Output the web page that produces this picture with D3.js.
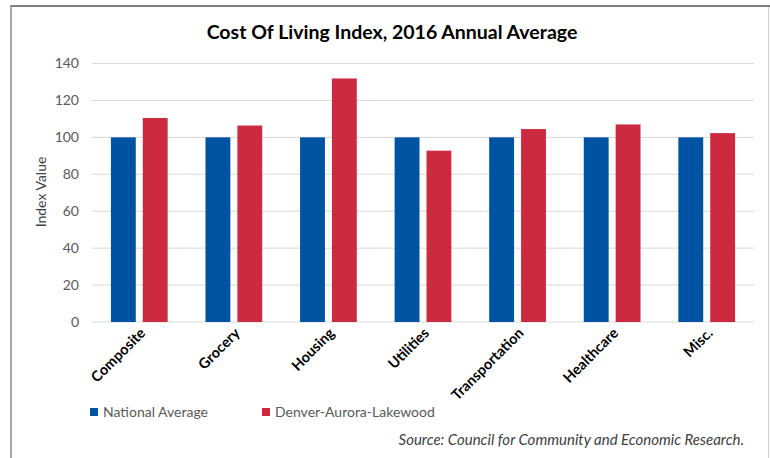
<!DOCTYPE html>
<html>
<head>
<meta charset="utf-8">
<script src="https://cdn.jsdelivr.net/npm/d3@7"></script>
<style>
body { margin: 0; background: #fff; }
text { font-family: Lato, "Open Sans", sans-serif; }
</style>
</head>
<body>
<div id="chart"></div>
<script>
var categories = ["Composite", "Grocery", "Housing", "Utilities", "Transportation", "Healthcare", "Misc."];
var national   = [100, 100, 100, 100, 100, 100, 100];
var denver     = [110.5, 106.4, 131.9, 92.8, 104.5, 107.0, 102.3];
var seriesNames = ["National Average", "Denver-Aurora-Lakewood"];
var yTicks = [0, 20, 40, 60, 80, 100, 120, 140];

var width = 770, height = 458;
var colors = ["#0052A3", "#CC2B3F"];

var svg = d3.select("#chart").append("svg").attr("width", width).attr("height", height);

// frame
svg.append("line").attr("x1", 11).attr("x2", 770).attr("y1", 6).attr("y2", 6)
  .attr("stroke", "#7f7f7f").attr("stroke-width", 2);
svg.append("line").attr("x1", 11).attr("x2", 11).attr("y1", 5).attr("y2", 458)
  .attr("stroke", "#8a8a8a").attr("stroke-width", 1.5);
svg.append("line").attr("x1", 768.5).attr("x2", 768.5).attr("y1", 7).attr("y2", 458)
  .attr("stroke", "#d0d0d0").attr("stroke-width", 1);

var x0 = d3.scaleBand().domain(categories).range([92, 754]).paddingInner(0.4).paddingOuter(0.2);
var x1 = d3.scaleBand().domain([0, 1]).range([0, x0.bandwidth()]).paddingInner(0.22);
var y = d3.scaleLinear().domain([0, 140]).range([322, 63.5]);

// gridlines
svg.append("g").selectAll("line").data(yTicks).enter().append("line")
  .attr("x1", 92).attr("x2", 754)
  .attr("y1", function(d){ return y(d); }).attr("y2", function(d){ return y(d); })
  .attr("stroke", "#d9d9d9").attr("stroke-width", 1);

// y axis labels
var yAxis = d3.axisLeft(y).tickValues(yTicks).tickSize(0).tickPadding(0);
var ya = svg.append("g").attr("transform", "translate(79,0)").call(yAxis);
ya.select(".domain").remove();
ya.selectAll("text").attr("font-size", 14).attr("fill", "#595959")
  .style("font-family", "Lato, sans-serif");

svg.append("text").attr("transform", "translate(46,192) rotate(-90)")
  .attr("text-anchor", "middle").attr("font-size", 14).attr("fill", "#404040")
  .text("Index Value");

// bars
var rows = categories.map(function(c, i){ return {cat: c, vals: [national[i], denver[i]]}; });
var groups = svg.append("g").selectAll("g").data(rows).enter().append("g")
  .attr("transform", function(d){ return "translate(" + x0(d.cat) + ",0)"; });
groups.selectAll("rect").data(function(d){ return d.vals.map(function(v, k){ return {k: k, v: v}; }); })
  .enter().append("rect")
  .attr("x", function(d){ return x1(d.k); })
  .attr("width", x1.bandwidth())
  .attr("y", function(d){ return y(d.v); })
  .attr("height", function(d){ return y(0) - y(d.v); })
  .attr("fill", function(d){ return colors[d.k]; });

// x labels
svg.append("g").selectAll("text").data(categories).enter().append("text")
  .attr("transform", function(d){
    return "translate(" + (x0(d) + x0.bandwidth() / 2 + 7) + ",334) rotate(-45)";
  })
  .attr("text-anchor", "end").attr("font-size", 14.5).attr("font-weight", "bold")
  .attr("fill", "#000").text(function(d){ return d; });

// title
svg.append("text").attr("x", 392).attr("y", 39).attr("text-anchor", "middle")
  .attr("font-size", 19.5).attr("font-weight", "bold").attr("fill", "#000")
  .text("Cost Of Living Index, 2016 Annual Average");

// legend
var legX = [90, 262];
var leg = svg.append("g").selectAll("g").data(seriesNames).enter().append("g")
  .attr("transform", function(d, i){ return "translate(" + legX[i] + ",412)"; });
leg.append("rect").attr("x", 0).attr("y", -4).attr("width", 8).attr("height", 8)
  .attr("fill", function(d, i){ return colors[i]; });
leg.append("text").attr("x", 13).attr("y", 5).attr("font-size", 14).attr("fill", "#595959")
  .text(function(d){ return d; });

// source
svg.append("text").attr("x", 744).attr("y", 445).attr("text-anchor", "end")
  .attr("font-size", 15).attr("font-style", "italic").attr("fill", "#404040")
  .text("Source: Council for Community and Economic Research.");
</script>
</body>
</html>
